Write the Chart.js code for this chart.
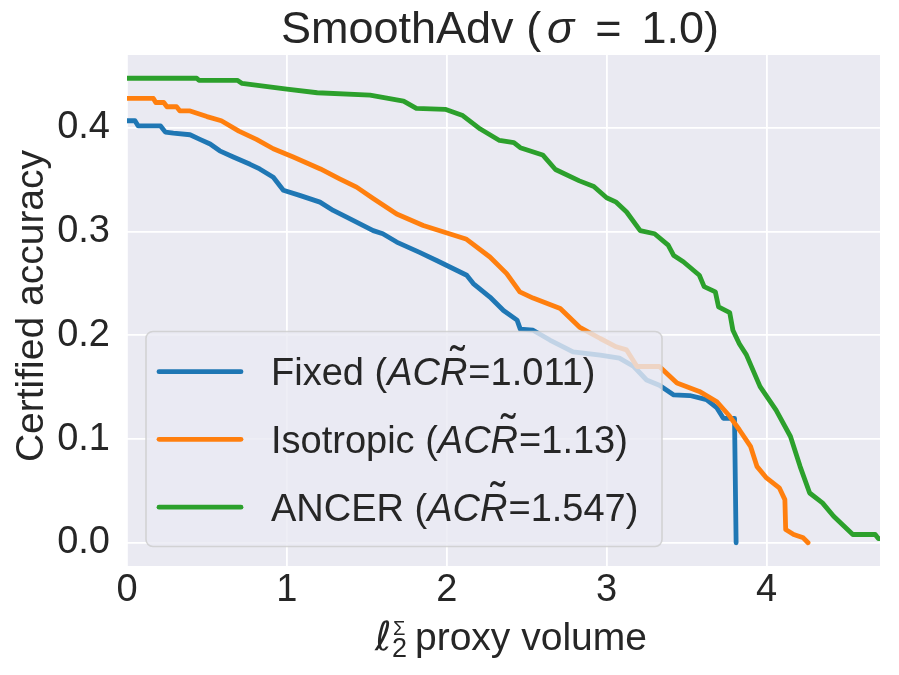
<!DOCTYPE html>
<html><head><meta charset="utf-8">
<script src="https://cdn.jsdelivr.net/npm/chart.js@4.4.1/dist/chart.umd.min.js"></script>
<style>html,body{margin:0;padding:0;background:#fff}canvas{display:block}</style>
</head><body>
<canvas id="c" width="899" height="675"></canvas>
<script>
// ---- data ----
const fixedX = [0,0.05,0.07,0.21,0.24,0.29,0.394,0.456,0.52,0.58,0.665,0.77,0.83,0.915,0.978,1.08,1.207,1.29,1.374,1.54,1.60,1.687,1.83,1.94,2.125,2.166,2.27,2.355,2.44,2.46,2.54,2.645,2.79,2.96,3.08,3.17,3.25,3.33,3.42,3.52,3.625,3.69,3.73,3.80,3.81];
const fixedY = [0.407,0.407,0.402,0.402,0.396,0.395,0.3935,0.389,0.3846,0.378,0.372,0.365,0.3605,0.3525,0.34,0.335,0.3285,0.3205,0.314,0.301,0.298,0.29,0.28,0.272,0.258,0.25,0.237,0.224,0.2147,0.206,0.205,0.1955,0.184,0.181,0.178,0.17,0.157,0.152,0.1426,0.142,0.138,0.13,0.12,0.12,0.0];
const isoX = [0,0.165,0.18,0.23,0.25,0.31,0.33,0.39,0.50,0.59,0.70,0.81,0.915,1.04,1.21,1.33,1.436,1.54,1.687,1.853,2.12,2.27,2.375,2.457,2.54,2.71,2.83,2.96,3.06,3.125,3.19,3.33,3.44,3.58,3.69,3.77,3.83,3.90,3.94,4.0,4.08,4.115,4.12,4.17,4.23,4.26];
const isoY = [0.4285,0.4285,0.4246,0.4246,0.4205,0.4205,0.4166,0.4166,0.411,0.407,0.397,0.389,0.38,0.372,0.3605,0.351,0.343,0.332,0.317,0.306,0.293,0.2756,0.2596,0.242,0.236,0.226,0.208,0.197,0.189,0.186,0.17,0.17,0.154,0.146,0.136,0.122,0.109,0.093,0.0737,0.0625,0.053,0.0416,0.0128,0.008,0.0048,0.0];
const ancerX = [0,0.436,0.45,0.69,0.72,1.0,1.19,1.52,1.73,1.81,1.99,2.10,2.21,2.33,2.42,2.46,2.60,2.68,2.83,2.92,3.0,3.06,3.125,3.21,3.30,3.385,3.42,3.48,3.58,3.61,3.68,3.70,3.77,3.79,3.83,3.875,3.96,4.06,4.15,4.21,4.27,4.35,4.42,4.54,4.68,4.70,4.71];
const ancerY = [0.448,0.448,0.446,0.446,0.443,0.4375,0.434,0.4317,0.426,0.419,0.418,0.412,0.399,0.388,0.386,0.381,0.374,0.360,0.349,0.3436,0.3327,0.3285,0.319,0.301,0.298,0.287,0.277,0.271,0.258,0.247,0.242,0.2275,0.222,0.205,0.192,0.181,0.1506,0.128,0.1025,0.0737,0.048,0.0385,0.0256,0.008,0.008,0.004,0.004];
const seriesNames = ['Fixed','Isotropic','ANCER'];
const acrValues = ['1.011','1.13','1.547'];
const xTicks = [0,1,2,3,4];
const yTicks = [0.0,0.1,0.2,0.3,0.4];
const titleText = ['SmoothAdv (', 'σ', '=', '1.0)'];
const xLabelText = 'proxy volume';
const yLabelText = 'Certified accuracy';

const colors = ['#1f77b4','#ff7f0e','#2ca02c'];
const FONT = '"Liberation Sans", Arial, sans-serif';
const TXT = '#262626';

function pts(xs, ys){ return xs.map((x,i)=>({x:x, y:ys[i]})); }

const bgPlugin = {
  id:'bg',
  beforeDraw(chart){
    const {ctx, chartArea:a} = chart;
    ctx.save();
    ctx.fillStyle='#ffffff'; ctx.fillRect(0,0,chart.width,chart.height);
    ctx.fillStyle='#EAEAF2'; ctx.fillRect(a.left,a.top,a.right-a.left,a.bottom-a.top);
    ctx.restore();
  }
};

const legendPlugin = {
  id:'customLegend',
  afterDatasetsDraw(chart){
    const ctx = chart.ctx;
    ctx.save();
    const bx=146, by=331.5, bw=516, bh=215, r=7;
    ctx.beginPath();
    ctx.moveTo(bx+r,by); ctx.lineTo(bx+bw-r,by); ctx.arcTo(bx+bw,by,bx+bw,by+r,r);
    ctx.lineTo(bx+bw,by+bh-r); ctx.arcTo(bx+bw,by+bh,bx+bw-r,by+bh,r);
    ctx.lineTo(bx+r,by+bh); ctx.arcTo(bx,by+bh,bx,by+bh-r,r);
    ctx.lineTo(bx,by+r); ctx.arcTo(bx,by,bx+r,by,r); ctx.closePath();
    ctx.fillStyle='rgba(234,234,242,0.8)'; ctx.fill();
    ctx.strokeStyle='rgba(204,204,204,0.8)'; ctx.lineWidth=1.6; ctx.stroke();
    const ys=[371.7,439.3,507.2];
    seriesNames.forEach((name,i)=>{
      const cy=ys[i];
      ctx.strokeStyle=colors[i]; ctx.lineWidth=4.8; ctx.lineCap='round';
      ctx.beginPath(); ctx.moveTo(159,cy); ctx.lineTo(241,cy); ctx.stroke();
      const base=cy+13.5;
      let x=271;
      ctx.fillStyle=TXT; ctx.textBaseline='alphabetic'; ctx.textAlign='left';
      ctx.font='38px '+FONT;
      const t1=name+' (';
      ctx.fillText(t1,x,base); x+=ctx.measureText(t1).width;
      ctx.font='italic 38px '+FONT;
      ctx.fillText('AC',x,base); x+=ctx.measureText('AC').width;
      const rw=ctx.measureText('R').width;
      ctx.fillText('R',x,base);
      ctx.font='44px '+FONT; ctx.textAlign='center';
      ctx.fillText('˜',x+rw/2+4,base-8);
      ctx.textAlign='left';
      x+=rw+1;
      ctx.font='38px '+FONT;
      ctx.fillText('='+acrValues[i]+')',x,base);
    });
    ctx.restore();
  }
};

const textPlugin = {
  id:'texts',
  afterDraw(chart){
    const ctx=chart.ctx;
    ctx.save();
    ctx.fillStyle=TXT; ctx.textBaseline='alphabetic'; ctx.textAlign='left';
    // title
    const fN='45px '+FONT, fI='italic 45px '+FONT;
    ctx.font=fN; const w1=ctx.measureText(titleText[0]).width, w3=ctx.measureText(titleText[2]).width;
    ctx.font=fI; const w2=ctx.measureText(titleText[1]).width;
    const gap1=6, gap2=21, gap3=20;
    let x=281; const tb=43;
    ctx.font=fN; ctx.fillText(titleText[0],x,tb); x+=w1+gap1;
    ctx.font=fI; ctx.fillText(titleText[1],x,tb); x+=w2+gap2;
    ctx.font=fN; ctx.fillText(titleText[2],x,tb); x+=w3+gap3;
    ctx.fillText(titleText[3],x,tb);
    // x label
    const xb=650;
    ctx.font='italic 40px "DejaVu Sans", sans-serif';
    ctx.fillText('ℓ',375,xb);
    ctx.font='27px '+FONT; ctx.fillText('2',392,xb+7);
    ctx.font='20px '+FONT; ctx.fillText('Σ',393,xb-15);
    ctx.font='39px '+FONT; ctx.fillText(xLabelText,415,xb);
    // y label
    ctx.translate(43,306); ctx.rotate(-Math.PI/2);
    ctx.textAlign='center'; ctx.font='39px '+FONT;
    ctx.fillText(yLabelText,0,0);
    ctx.restore();
  }
};

const mk = (xs,ys,i,ord)=>({
  label:seriesNames[i], data:pts(xs,ys), borderColor:colors[i], backgroundColor:colors[i],
  borderWidth:4.8, pointRadius:0, fill:false, tension:0, order:ord,
  borderCapStyle:'round', borderJoinStyle:'round'
});

new Chart(document.getElementById('c'), {
  type:'line',
  data:{ datasets:[ mk(fixedX,fixedY,0,3), mk(isoX,isoY,1,2), mk(ancerX,ancerY,2,1) ] },
  options:{
    responsive:false, animation:false, devicePixelRatio:1,
    layout:{ padding:{ top:55, right:19, left:0, bottom:0 } },
    plugins:{ legend:{display:false}, title:{display:false}, tooltip:{enabled:false} },
    scales:{
      x:{ type:'linear', min:0, max:4.71,
        afterBuildTicks:(s)=>{ s.ticks = xTicks.map(v=>({value:v})); },
        afterFit:(s)=>{ s.height=109; },
        ticks:{ font:{family:FONT,size:38}, color:TXT, padding:2, maxRotation:0, autoSkip:false, callback:(v)=>String(v) },
        grid:{ color:'#ffffff', lineWidth:1.8, drawTicks:false },
        border:{ display:false }
      },
      y:{ type:'linear', min:-0.0224, max:0.4704,
        afterBuildTicks:(s)=>{ s.ticks = yTicks.map(v=>({value:v})); },
        afterFit:(s)=>{ s.width=127; },
        ticks:{ font:{family:FONT,size:38}, color:TXT, padding:17, autoSkip:false, callback:(v)=>Number(v).toFixed(1) },
        grid:{ color:'#ffffff', lineWidth:1.8, drawTicks:false },
        border:{ display:false }
      }
    }
  },
  plugins:[bgPlugin, legendPlugin, textPlugin]
});
</script>
</body></html>
